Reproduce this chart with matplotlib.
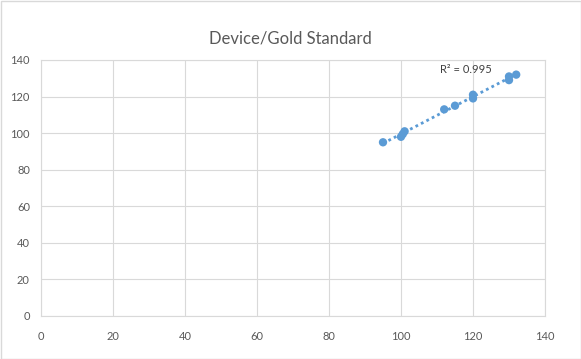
import numpy as np
import matplotlib
matplotlib.use("Agg")
import matplotlib.pyplot as plt

gold = [95, 100, 101, 100.5, 112, 115, 120, 120, 130, 130, 132]
device = [95, 98, 101, 99.5, 113, 115, 121, 119, 129, 131, 132]
xticks = [0, 20, 40, 60, 80, 100, 120, 140]
yticks = [0, 20, 40, 60, 80, 100, 120, 140]
title = "Device/Gold Standard"
r2_label = "R² = 0.995"

plt.rcParams['font.family'] = ['Lato', 'DejaVu Sans']
fig = plt.figure(figsize=(5.81, 3.59), dpi=100)
ax = fig.add_axes([41/581, 43/359, 504/581, 256/359])
fig.patches.append(plt.Rectangle((0.5/581, 0.5/359), 1-1/581, 1-1/359, transform=fig.transFigure,
                                 fill=False, edgecolor='#D9D9D9', linewidth=1))

ax.set_xlim(0, 140)
ax.set_ylim(0, 140)
ax.set_xticks(xticks)
ax.set_yticks(yticks)
ax.grid(True, color='#D9D9D9', linewidth=0.8)
ax.set_axisbelow(True)
for s in ax.spines.values():
    s.set_color('#D9D9D9')
    s.set_linewidth(0.8)
ax.tick_params(length=0, colors='#595959', labelsize=8)
ax.tick_params(axis='x', pad=11)
ax.tick_params(axis='y', pad=8)

ax.scatter(gold, device, s=36, color='#5B9BD5', zorder=3, edgecolors='none')
m, b = np.polyfit(gold, device, 1)
xs = np.array([min(gold), max(gold)])
ax.plot(xs, m*xs + b, linestyle=(0, (1, 1.2)), color='#5B9BD5', linewidth=2, zorder=2)
ax.text(118, 135, r2_label, fontsize=8, color='#404040', ha='center', va='center')

fig.suptitle(title, x=0.5, y=1-38/359, fontsize=12, color='#595959', va='center')
fig.savefig('out.png', dpi=100)
